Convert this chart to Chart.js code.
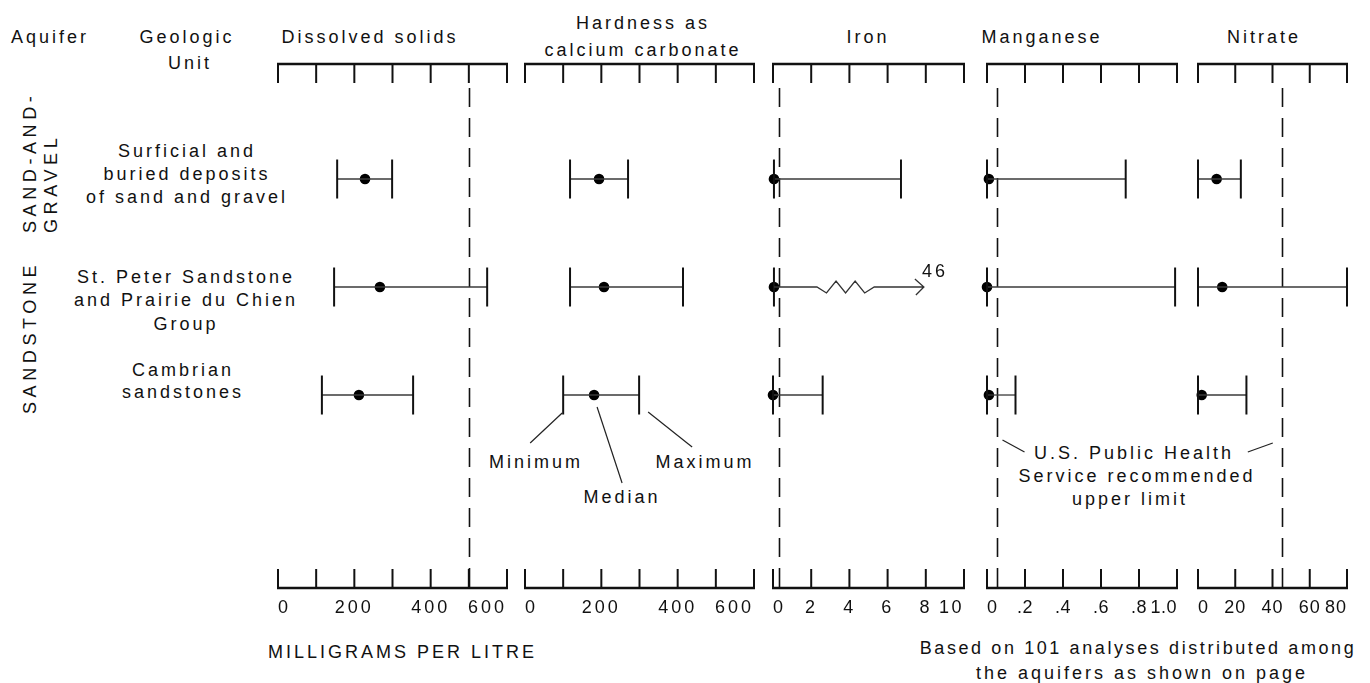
<!DOCTYPE html>
<html>
<head>
<meta charset="utf-8">
<script src="https://cdn.jsdelivr.net/npm/chart.js@4.4.1/dist/chart.umd.min.js"></script>
<style>
  body { margin: 0; width: 1370px; height: 683px; position: relative; overflow: hidden; background: #fff;
         font-family: "Liberation Sans", Arial, sans-serif; color: #111; }
  .t { position: absolute; font-size: 18px; letter-spacing: 3px; white-space: nowrap; line-height: 1;
       transform: translate(-50%, -50%); }
  .l { position: absolute; font-size: 18px; letter-spacing: 3px; white-space: nowrap; line-height: 1;
       transform: translateY(-50%); }
  .rot { position: absolute; font-size: 18px; letter-spacing: 4.6px; white-space: nowrap; line-height: 21px;
         transform-origin: 0 0; transform: rotate(-90deg); }
  canvas { position: absolute; top: 0; }
</style>
</head>
<body>
<!-- headers -->
<div class="t" style="left:50px;top:37px">Aquifer</div>
<div class="t" style="left:187px;top:37px">Geologic</div>
<div class="t" style="left:190px;top:63px">Unit</div>
<div class="t" style="left:370px;top:37px">Dissolved solids</div>
<div class="t" style="left:643px;top:23px">Hardness as</div>
<div class="t" style="left:643px;top:50px">calcium carbonate</div>
<div class="t" style="left:868px;top:37px">Iron</div>
<div class="t" style="left:1042px;top:37px">Manganese</div>
<div class="t" style="left:1264px;top:37px">Nitrate</div>

<!-- aquifers -->
<div class="rot" style="left:20px;top:233px">SAND-AND-<br>GRAVEL</div>
<div class="rot" style="left:20px;top:414px">SANDSTONE</div>

<!-- geologic units -->
<div class="t" style="left:187px;top:151px">Surficial and</div>
<div class="t" style="left:187px;top:174px">buried deposits</div>
<div class="t" style="left:187px;top:197px">of sand and gravel</div>
<div class="t" style="left:186px;top:277px">St. Peter Sandstone</div>
<div class="t" style="left:186px;top:300px">and Prairie du Chien</div>
<div class="t" style="left:186px;top:324px">Group</div>
<div class="t" style="left:183px;top:370px">Cambrian</div>
<div class="t" style="left:183px;top:392px">sandstones</div>

<!-- explanation -->
<div class="t" style="left:536px;top:462px">Minimum</div>
<div class="t" style="left:622px;top:497px">Median</div>
<div class="t" style="left:705px;top:462px">Maximum</div>
<div class="t" style="left:1134px;top:453px">U.S. Public Health</div>
<div class="t" style="left:1137px;top:476px">Service recommended</div>
<div class="t" style="left:1130px;top:499px">upper limit</div>

<!-- footer -->
<div class="l" style="left:268px;top:652px">MILLIGRAMS PER LITRE</div>
<div class="t" style="left:1138px;top:648px;letter-spacing:2.6px">Based on 101 analyses distributed among</div>
<div class="t" style="left:1142px;top:673px">the aquifers as shown on page</div>

<script>
// rows (geologic units), top to bottom
const units = ['Surficial and buried deposits of sand and gravel',
               'St. Peter Sandstone and Prairie du Chien Group',
               'Cambrian sandstones'];
const constituents = ['Dissolved solids', 'Hardness as calcium carbonate', 'Iron', 'Manganese', 'Nitrate'];

// milligrams per litre: minimum / median / maximum for each unit
const solidsMin = [155, 147, 115];
const solidsMedian = [228, 267, 212];
const solidsMax = [299, 548, 354];

const hardMin = [118, 118, 100];
const hardMedian = [194, 207, 181];
const hardMax = [270, 414, 299];

const ironMin = [0.05, 0.05, 0];
const ironMedian = [0.05, 0.05, 0];
const ironMax = [6.7, 46, 2.6];

const mnMin = [0, 0, 0];
const mnMedian = [0.01, 0, 0.01];
const mnMax = [0.73, 0.99, 0.15];

const nitrateMin = [0, 0, 0];
const nitrateMedian = [10, 13, 2];
const nitrateMax = [23, 80, 26];

// U.S. Public Health Service recommended upper limit (null = none)
const limits = [500, null, 0.3, 0.05, 45];

// axis ranges
const axisMax = [600, 600, 10, 1, 80];
const axisStep = [100, 100, 2, 0.2, 20];

const FONT = '"Liberation Sans", Arial, sans-serif';
const PAD = 24, H = 640;

const fmtEvery200 = v => (v % 200 === 0 ? String(v) : '');
const fmtPlain = v => String(v);
const fmtFraction = v => (v === 0 ? '0' : v >= 1 ? '1.0' : v.toFixed(1).slice(1));

const panels = [
  { lo: solidsMin, mid: solidsMedian, hi: solidsMax, left: 278, right: 507, fmt: fmtEvery200, spacing: 3 },
  { lo: hardMin, mid: hardMedian, hi: hardMax, left: 525, right: 754, fmt: fmtEvery200, spacing: 3, callouts: true },
  { lo: ironMin, mid: ironMedian, hi: ironMax, left: 773, right: 964, fmt: fmtPlain, spacing: 2.5 },
  { lo: mnMin, mid: mnMedian, hi: mnMax, left: 987, right: 1177, fmt: fmtFraction, spacing: 0.5, leader: 1 },
  { lo: nitrateMin, mid: nitrateMedian, hi: nitrateMax, left: 1198, right: 1347, fmt: fmtPlain, spacing: 1, leader: -1 }
];

function line(ctx, x1, y1, x2, y2) {
  ctx.beginPath(); ctx.moveTo(x1, y1); ctx.lineTo(x2, y2); ctx.stroke();
}

// axes with inward ticks, limit line, off-scale arrows and leader lines
const frame = {
  id: 'frame',
  beforeDraw(chart, args, o) { chart.ctx.letterSpacing = o.spacing + 'px'; },
  beforeDatasetsDraw(chart, args, o) {
    if (o.limit == null) return;
    const { ctx, chartArea: a, scales: { x } } = chart;
    const px = Math.round(x.getPixelForValue(o.limit)) + 0.5;
    ctx.save();
    ctx.strokeStyle = '#111'; ctx.lineWidth = 1.6; ctx.setLineDash([19, 11]);
    line(ctx, px, a.top + 24, px, a.bottom);
    ctx.restore();
  },
  afterDraw(chart, args, o) {
    const { ctx, chartArea: a, scales: { x, y } } = chart;
    ctx.save();
    ctx.strokeStyle = '#111';
    ctx.lineWidth = 2.6;
    line(ctx, a.left - 1, a.top, a.right + 1, a.top);
    line(ctx, a.left - 1, a.bottom, a.right + 1, a.bottom);
    ctx.lineWidth = 2;
    x.ticks.forEach(t => {
      const px = x.getPixelForValue(t.value);
      line(ctx, px, a.top, px, a.top + 19);
      line(ctx, px, a.bottom, px, a.bottom - 19);
    });

    // values beyond the axis: broken line with arrow and the value
    ctx.lineWidth = 1.3; ctx.strokeStyle = '#333';
    o.hi.forEach((v, i) => {
      if (v <= o.max) return;
      const yy = y.getPixelForValue(i);
      const x0 = x.getPixelForValue(o.lo[i]);
      const z0 = x.getPixelForValue(o.max * 0.23);
      const z1 = x.getPixelForValue(o.max * 0.53);
      const tip = x.getPixelForValue(o.max * 0.79);
      ctx.beginPath();
      ctx.moveTo(x0, yy); ctx.lineTo(z0, yy);
      for (let k = 1; k <= 5; k++) ctx.lineTo(z0 + (z1 - z0) * k / 6, yy + (k % 2 ? 6 : -6));
      ctx.lineTo(z1, yy); ctx.lineTo(tip, yy);
      ctx.moveTo(tip - 9, yy - 8); ctx.lineTo(tip, yy); ctx.lineTo(tip - 8, yy + 8);
      ctx.stroke();
      ctx.fillStyle = '#111'; ctx.font = '18px ' + FONT; ctx.letterSpacing = '3px';
      ctx.textAlign = 'left'; ctx.textBaseline = 'middle';
      ctx.fillText(String(v), tip - 2, yy - 15);
    });

    ctx.lineWidth = 1.2; ctx.strokeStyle = '#222';
    if (o.callouts) {
      const i = units.length - 1, yy = y.getPixelForValue(i);
      const xl = x.getPixelForValue(o.lo[i]), xm = x.getPixelForValue(o.mid[i]), xh = x.getPixelForValue(o.hi[i]);
      line(ctx, xl - 1, yy + 18, xl - 33, yy + 48);
      line(ctx, xm + 3, yy + 12, xm + 28, yy + 88);
      line(ctx, xh + 9, yy + 17, xh + 53, yy + 52);
    }
    if (o.leader && o.limit != null) {
      const yy = y.getPixelForValue(units.length - 1);
      const px = x.getPixelForValue(o.limit);
      if (o.leader > 0) line(ctx, px + 6, yy + 45, px + 28, yy + 57);
      else line(ctx, px - 9, yy + 48, px - 34, yy + 57);
    }
    ctx.restore();
  }
};

panels.forEach((p, n) => {
  const cv = document.createElement('canvas');
  cv.width = p.right - p.left + 2 * PAD;
  cv.height = H;
  cv.style.left = (p.left - PAD) + 'px';
  document.body.appendChild(cv);

  const datasets = units.map((u, i) => {
    const offScale = p.hi[i] > axisMax[n];
    const pts = offScale ? [{ x: p.lo[i], y: i }] : [{ x: p.lo[i], y: i }, { x: p.hi[i], y: i }];
    return {
      type: 'line', label: u, data: pts,
      borderColor: '#3a3a3a', borderWidth: 1.3,
      pointStyle: 'line', pointRotation: 90, pointRadius: 19.5,
      pointBorderWidth: 2, pointBorderColor: '#111', pointBackgroundColor: '#111',
      clip: false
    };
  });
  datasets.push({
    type: 'scatter', label: 'Median',
    data: p.mid.map((v, i) => ({ x: v, y: i })),
    pointStyle: 'circle', pointRadius: 5.3,
    backgroundColor: '#000', borderColor: '#000', borderWidth: 0,
    clip: false
  });

  new Chart(cv, {
    data: { datasets },
    options: {
      responsive: false,
      animation: false,
      devicePixelRatio: 1,
      events: [],
      layout: { padding: { top: 64, bottom: 21, left: PAD, right: PAD } },
      plugins: {
        legend: { display: false },
        tooltip: { enabled: false },
        frame: { limit: limits[n], lo: p.lo, mid: p.mid, hi: p.hi, max: axisMax[n],
                 callouts: p.callouts, leader: p.leader, spacing: p.spacing }
      },
      scales: {
        x: {
          type: 'linear', position: 'bottom', min: 0, max: axisMax[n],
          grid: { display: false, drawTicks: false },
          border: { display: false },
          afterFit: s => { s.height = 31; },
          ticks: {
            stepSize: axisStep[n], autoSkip: false, maxRotation: 0, align: 'inner', padding: 9,
            color: '#111', font: { family: FONT, size: 18 },
            callback: p.fmt
          }
        },
        y: { type: 'linear', display: false, reverse: true, min: -1.065, max: 3.787 }
      }
    },
    plugins: [frame]
  });
});
</script>
</body>
</html>
